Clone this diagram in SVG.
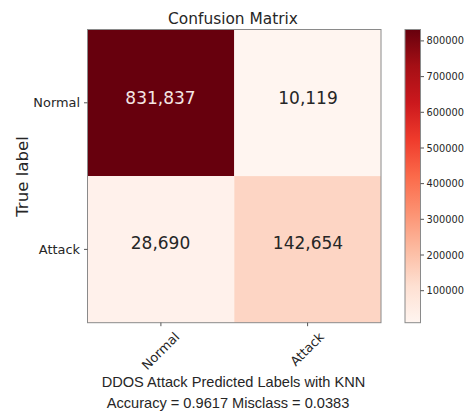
<svg xmlns="http://www.w3.org/2000/svg" width="474" height="414" viewBox="0 0 474 414">
  <style>
    .lbl { font-family: "DejaVu Sans", sans-serif; fill: #262626; }
    .tick { font-size: 12.9px; }
    .num { font-size: 17px; text-anchor: middle; }
    .cb { font-size: 9.8px; }
    .cap { font-family: "Liberation Sans", Arial, sans-serif; font-size: 14.6px; fill: #262626; text-anchor: middle; }
    .tk { stroke: #444; stroke-width: 0.9; }
    .frame { fill: none; stroke: #8a8a8a; stroke-width: 1; }
  </style>
  <defs>
    <linearGradient id="reds" x1="0" y1="1" x2="0" y2="0">
      <stop offset="0" stop-color="#fff5f0"/>
      <stop offset="0.125" stop-color="#fee0d2"/>
      <stop offset="0.25" stop-color="#fcbba1"/>
      <stop offset="0.375" stop-color="#fc9272"/>
      <stop offset="0.5" stop-color="#fb6a4a"/>
      <stop offset="0.625" stop-color="#ef3b2c"/>
      <stop offset="0.75" stop-color="#cb181d"/>
      <stop offset="0.875" stop-color="#a50f15"/>
      <stop offset="1" stop-color="#67000d"/>
    </linearGradient>
  </defs>
  <rect width="474" height="414" fill="#ffffff"/>

  <text id="title" class="lbl" x="233" y="24" font-size="15.4" text-anchor="middle">Confusion Matrix</text>

  <g id="cell-normal-normal">
    <rect x="87.5" y="29.5" width="146.75" height="146.6" fill="#67000d"/>
    <text class="lbl num" x="160.5" y="103.5" style="fill:#f4e6e4">831,837</text>
  </g>
  <g id="cell-normal-attack">
    <rect x="234.25" y="29.5" width="146.75" height="146.6" fill="#fff5f0"/>
    <text class="lbl num" x="308" y="103.5">10,119</text>
  </g>
  <g id="cell-attack-normal">
    <rect x="87.5" y="176.1" width="146.75" height="146.6" fill="#fff1eb"/>
    <text class="lbl num" x="160.5" y="249">28,690</text>
  </g>
  <g id="cell-attack-attack">
    <rect x="234.25" y="176.1" width="146.75" height="146.6" fill="#fdd5c4"/>
    <text class="lbl num" x="308" y="249">142,654</text>
  </g>
  <rect class="frame" x="87.5" y="29.5" width="293.5" height="293.2"/>

  <g id="axes">
    <line class="tk" x1="84" y1="102.8" x2="87.5" y2="102.8"/>
    <line class="tk" x1="84" y1="249.4" x2="87.5" y2="249.4"/>
    <line class="tk" x1="160.9" y1="322.7" x2="160.9" y2="326.2"/>
    <line class="tk" x1="307.6" y1="322.7" x2="307.6" y2="326.2"/>
    <text class="lbl tick" x="80" y="107.3" text-anchor="end">Normal</text>
    <text class="lbl tick" x="80" y="253.8" text-anchor="end" font-size="12.6">Attack</text>
    <text class="lbl tick" transform="translate(160.5,351) rotate(-45)" x="0" y="4.5" text-anchor="middle">Normal</text>
    <text class="lbl tick" transform="translate(307,349) rotate(-45)" x="0" y="4.5" text-anchor="middle" font-size="12.6">Attack</text>
    <text class="lbl" transform="translate(28,176.5) rotate(-90)" x="0" y="0" font-size="16.6" text-anchor="middle">True label</text>
  </g>

  <g id="colorbar">
    <rect x="405" y="29.5" width="15.5" height="293.2" fill="url(#reds)" stroke="#8a8a8a" stroke-width="1"/>
    <g class="tk">
      <line x1="420.5" y1="40.9" x2="424" y2="40.9"/>
      <line x1="420.5" y1="76.6" x2="424" y2="76.6"/>
      <line x1="420.5" y1="112.3" x2="424" y2="112.3"/>
      <line x1="420.5" y1="148.0" x2="424" y2="148.0"/>
      <line x1="420.5" y1="183.6" x2="424" y2="183.6"/>
      <line x1="420.5" y1="219.3" x2="424" y2="219.3"/>
      <line x1="420.5" y1="255.0" x2="424" y2="255.0"/>
      <line x1="420.5" y1="290.7" x2="424" y2="290.7"/>
    </g>
    <g class="lbl cb">
      <text x="426.5" y="44.4">800000</text>
      <text x="426.5" y="80.1">700000</text>
      <text x="426.5" y="115.8">600000</text>
      <text x="426.5" y="151.5">500000</text>
      <text x="426.5" y="187.1">400000</text>
      <text x="426.5" y="222.8">300000</text>
      <text x="426.5" y="258.5">200000</text>
      <text x="426.5" y="294.2">100000</text>
    </g>
  </g>

  <text id="xlabel" class="cap" x="233.5" y="387">DDOS Attack Predicted Labels with KNN</text>
  <text id="accuracy" class="cap" x="228" y="408">Accuracy = 0.9617 Misclass = 0.0383</text>
</svg>
